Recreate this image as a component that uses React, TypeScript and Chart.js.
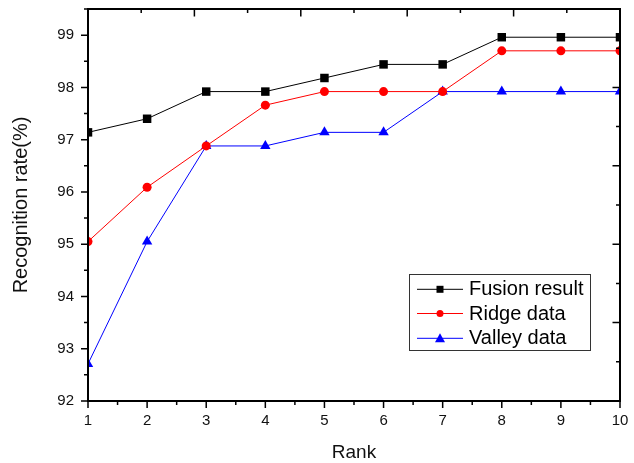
import React, { useEffect, useRef } from 'react';
import { Chart, registerables } from 'chart.js';

Chart.register(...registerables);

const ranks = [1, 2, 3, 4, 5, 6, 7, 8, 9, 10];
const fusionResult = [97.14, 97.4, 97.92, 97.92, 98.18, 98.44, 98.44, 98.96, 98.96, 98.96];
const ridgeData = [95.05, 96.09, 96.88, 97.66, 97.92, 97.92, 97.92, 98.7, 98.7, 98.7];
const valleyData = [92.71, 95.05, 96.88, 96.88, 97.14, 97.14, 97.92, 97.92, 97.92, 97.92];
const seriesLabels = ['Fusion result', 'Ridge data', 'Valley data'];
const seriesColors = ['#000000', '#ff0000', '#0000ff'];
const seriesMarkers = ['rect', 'circle', 'triangle'];
const xTitle = 'Rank';
const yTitle = 'Recognition rate(%)';
const yMin = 92;
const yMax = 99.5;
const xMin = 1;
const xMax = 10;

const FONT = '"Liberation Sans", Arial, Helvetica, sans-serif';

function drawMarker(ctx: CanvasRenderingContext2D, style: string, x: number, y: number, color: string) {
  ctx.fillStyle = color;
  ctx.beginPath();
  if (style === 'rect') {
    ctx.rect(x - 3.5, y - 3.5, 7, 7);
  } else if (style === 'circle') {
    ctx.arc(x, y, 3.5, 0, Math.PI * 2);
  } else {
    ctx.moveTo(x, y - 5);
    ctx.lineTo(x + 5, y + 4);
    ctx.lineTo(x - 5, y + 4);
    ctx.closePath();
  }
  ctx.fill();
}

const framePlugin = {
  id: 'originFrame',
  afterDatasetsDraw(chart: any) {
    const { ctx, chartArea } = chart;
    const { left, right, top, bottom } = chartArea;
    const xs = chart.scales.x;
    const ys = chart.scales.y;
    ctx.save();
    ctx.strokeStyle = '#000';
    ctx.lineWidth = 1.5;
    ctx.beginPath();
    for (let v = xMin; v <= xMax + 1e-9; v += 0.5) {
      const px = xs.getPixelForValue(v);
      const len = Number.isInteger(v) ? 7 : 4;
      ctx.moveTo(px, bottom);
      ctx.lineTo(px, bottom + len);
    }
    for (let v = yMin; v <= yMax + 1e-9; v += 0.5) {
      const py = ys.getPixelForValue(v);
      const len = Number.isInteger(v) ? 7 : 4;
      ctx.moveTo(left, py);
      ctx.lineTo(left - len, py);
    }
    for (let i = 1; i < 10; i++) {
      const len = i % 2 === 0 ? 7.5 : 4;
      const px = left + ((right - left) * i) / 10;
      ctx.moveTo(px, top);
      ctx.lineTo(px, top + len);
      const py = bottom - ((bottom - top) * i) / 10;
      ctx.moveTo(right, py);
      ctx.lineTo(right - len, py);
    }
    ctx.stroke();
    ctx.lineWidth = 2;
    ctx.strokeRect(left, top, right - left, bottom - top);

    // legend
    const lx = 409.5;
    const ly = 274.5;
    const lw = 181;
    const lh = 76;
    ctx.fillStyle = '#ffffff';
    ctx.fillRect(lx, ly, lw, lh);
    ctx.lineWidth = 1;
    ctx.strokeStyle = '#333333';
    ctx.strokeRect(lx, ly, lw, lh);
    const markerY = [289.3, 313.5, 338.3];
    const baseY = [295, 319.8, 344.3];
    chart.data.datasets.forEach((ds: any, i: number) => {
      const c = seriesColors[i];
      ctx.strokeStyle = c;
      ctx.lineWidth = 1;
      ctx.beginPath();
      ctx.moveTo(417, markerY[i]);
      ctx.lineTo(463, markerY[i]);
      ctx.stroke();
      drawMarker(ctx, seriesMarkers[i], 440, markerY[i], c);
      ctx.fillStyle = '#000';
      ctx.font = `20px ${FONT}`;
      ctx.textAlign = 'left';
      ctx.textBaseline = 'alphabetic';
      ctx.fillText(ds.label, 469, baseY[i]);
    });
    ctx.restore();
  },
};

export default function App() {
  const ref = useRef<HTMLCanvasElement | null>(null);
  useEffect(() => {
    if (!ref.current) return;
    Chart.defaults.font.family = FONT;
    const series = [fusionResult, ridgeData, valleyData];
    const radii = [6, 4.5, 6];
    const chart = new Chart(ref.current, {
      type: 'line',
      data: {
        datasets: series.map((vals, i) => ({
          label: seriesLabels[i],
          data: ranks.map((r, j) => ({ x: r, y: vals[j] })),
          borderColor: seriesColors[i],
          backgroundColor: seriesColors[i],
          pointBackgroundColor: seriesColors[i],
          pointBorderColor: seriesColors[i],
          pointBorderWidth: 0,
          pointStyle: seriesMarkers[i] as any,
          pointRadius: radii[i],
          borderWidth: 1,
          tension: 0,
          clip: 0,
        })),
      },
      options: {
        animation: false,
        responsive: false,
        maintainAspectRatio: false,
        layout: { padding: { left: 0, top: 9, right: 14, bottom: 0 } },
        plugins: { legend: { display: false }, tooltip: { enabled: false } },
        scales: {
          x: {
            type: 'linear',
            min: xMin,
            max: xMax,
            grid: { display: false, drawTicks: false },
            border: { display: false },
            ticks: { stepSize: 1, padding: 11, color: '#111', font: { size: 15 } },
            title: {
              display: true,
              text: xTitle,
              color: '#111',
              font: { size: 19, lineHeight: 1 },
              padding: { top: 0, bottom: 1 },
            },
            afterFit: (s: any) => {
              s.height = 62;
              s.paddingLeft = 0;
              s.paddingRight = 0;
            },
          },
          y: {
            type: 'linear',
            min: yMin,
            max: yMax,
            grid: { display: false, drawTicks: false },
            border: { display: false },
            ticks: { stepSize: 1, padding: 14, color: '#111', font: { size: 15 } },
            afterBuildTicks: (s: any) => {
              s.ticks = s.ticks.filter((t: any) => Number.isInteger(t.value));
            },
            title: {
              display: true,
              text: yTitle,
              color: '#111',
              font: { size: 20, lineHeight: 1 },
              padding: { top: 11, bottom: 0 },
            },
            afterFit: (s: any) => {
              s.width = 88;
              s.paddingTop = 0;
              s.paddingBottom = 0;
            },
          },
        },
      },
      plugins: [framePlugin],
    });
    return () => chart.destroy();
  }, []);
  return (
    <div style={{ position: 'absolute', left: 0, top: 0, width: 634, height: 463, background: '#fff' }}>
      <canvas ref={ref} width={634} height={463} style={{ display: 'block' }} />
    </div>
  );
}
